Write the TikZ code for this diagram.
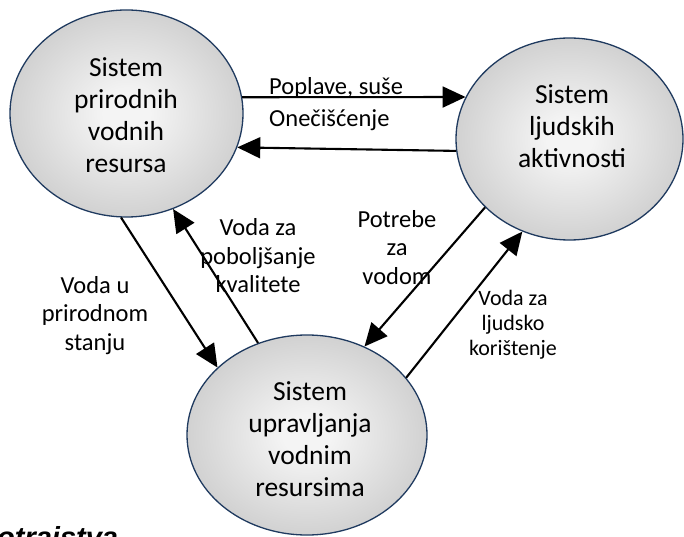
\documentclass[tikz,border=0pt]{standalone}
\usepackage{fontspec}
\setmainfont{Carlito}
\newfontfamily\arialfont{Liberation Sans}
\usetikzlibrary{arrows.meta,shapes.geometric}
\definecolor{edgeblue}{HTML}{1F3A5F}
\definecolor{shinner}{HTML}{F4F4F4}
\definecolor{shouter}{HTML}{A6A6A6}
\pgfdeclareradialshading{ellshade}{\pgfpoint{0bp}{0bp}}{color(0bp)=(shinner); color(5bp)=(shinner); color(50bp)=(shouter); color(75bp)=(shouter)}
\begin{document}
\begin{tikzpicture}[x=1pt,y=-1pt,
  sysell/.style={ellipse, draw=edgeblue, line width=1.3pt, shading=ellshade, inner sep=0pt},
  systext/.style={align=center, inner sep=0pt, font=\fontsize{27.5}{32}\selectfont},
  lbl/.style={align=center, inner sep=0pt, font=\fontsize{24.5}{28.5}\selectfont},
  lblsmall/.style={align=center, inner sep=0pt, font=\fontsize{22}{25}\selectfont},
  flow/.style={line width=2.1pt, -{Triangle[length=23pt,width=21pt]}}]
\useasboundingbox (0,0) rectangle (684,537);

% ellipses
\node[sysell, minimum width=233pt, minimum height=207pt] (e1) at (126.5,113.5) {};
\node[sysell, minimum width=227pt, minimum height=202pt] (e2) at (569.5,139) {};
\node[sysell, minimum width=240pt, minimum height=200pt] (e3) at (307,435) {};

% ellipse texts
\node[systext] (t1) at (126,115.5) {Sistem\\prirodnih\\vodnih\\resursa};
\node[systext] (t2) at (572,126) {Sistem\\ljudskih\\aktivnosti};
\node[systext] (t3) at (310,439) {Sistem\\upravljanja\\vodnim\\resursima};

% connectors
\draw[flow] (e1.8.1) -- (e2.158.1);
\draw[flow] (e2.186.1) -- (e1.-17.5);
\draw[flow] (e1.-93.6) -- (e3.143.9);
\draw[flow] (e3.118.8) -- (e1.-64.3);
\draw[flow] (e2.219.2) -- (e3.57.8);
\draw[flow] (e3.30.1) -- (e2.243.7);

% labels
\node[lbl, anchor=base west] (l1) at (269,95) {Poplave, suše};
\node[lbl, anchor=base west] (l2) at (269,127) {Onečišćenje};
\node[lbl] (l3) at (95,315.5) {Voda u\\prirodnom\\stanju};
\node[lbl] (l4) at (258,256) {Voda za\\poboljšanje\\kvalitete};
\node[lbl] (l5) at (397,247.5) {Potrebe\\za\\vodom};
\node[lblsmall] (l6) at (513,325) {Voda za\\ljudsko\\korištenje};

% cut-off caption
\node[anchor=base west, inner sep=0pt, font=\arialfont\bfseries\itshape\fontsize{29}{34}\selectfont] (foot) at (-3,547) {otrajstva};
\end{tikzpicture}
\end{document}
